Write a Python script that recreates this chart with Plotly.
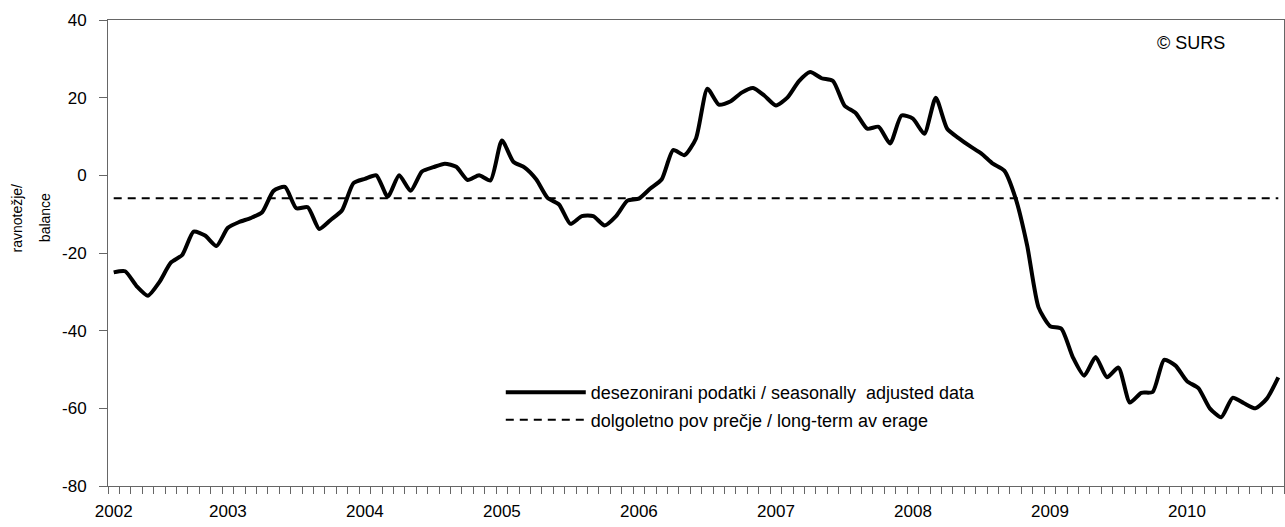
import plotly.graph_objects as go
import pandas as pd

# monthly values, March 2002 - September 2010
values = [
    -25, -24.7, -28.5, -31, -27.5, -22.5, -20.5, -14.5, -15.5, -18.2,
    -13.5, -12, -11, -9.5, -4, -3, -8.5, -8.2, -13.8, -11.5, -9, -2,
    -0.9, 0, -5.5, 0, -4, 1, 2.1, 3, 2.2, -1.2, 0, -1.3,
    9, 3.5, 2, -1, -5.8, -7.5, -12.5, -10.5, -10.5, -12.9, -10.5, -6.5,
    -6, -3.4, -1, 6.5, 5.2, 9.5, 22.3, 18.2, 19, 21.3, 22.5, 20.5,
    18, 20, 24.2, 26.6, 25, 24.3, 18, 16, 12, 12.5, 8.2, 15.4,
    14.6, 10.7, 20, 12, 9.6, 7.5, 5.6, 3, 1.2, -6, -18, -34,
    -38.8, -39.5, -46.8, -51.6, -46.8, -52, -49.5, -58.5, -56, -55.8, -47.5, -49,
    -53, -54.8, -60, -62.3, -57.3, -58.7, -60, -57.5, -52,
]
long_term_average = -5.9
months = [p.strftime("%Y-%m") for p in pd.period_range("2002-03", periods=len(values), freq="M")]
tick_text = [m[:4] if (i == 0 or m.endswith("-01")) else "" for i, m in enumerate(months)]
y_tick_vals = [-80, -60, -40, -20, 0, 20, 40]
y_tick_text = ["-80", "-60", "-40", "-20", "0", "20", "40"]

FONT = "Liberation Sans"
AXIS = "#666666"

fig = go.Figure()
fig.add_trace(go.Scatter(
    x=months, y=values, mode="lines",
    line=dict(color="black", width=4, shape="spline", smoothing=0.6),
    name="desezonirani podatki / seasonally  adjusted data", legendgroup="a",
))
fig.add_trace(go.Scatter(
    x=[months[0], months[-1]], y=[long_term_average, long_term_average], mode="lines",
    line=dict(color="black", width=2, dash="8px,6px"),
    name="dolgoletno pov prečje / long-term av erage", legendgroup="b",
))

fig.update_layout(
    width=1285, height=527,
    margin=dict(l=108, r=1, t=20, b=41),
    paper_bgcolor="white", plot_bgcolor="white",
    font=dict(family=FONT, size=17, color="black"),
    showlegend=True,
    legend=dict(x=0.334, y=0.24, xanchor="left", yanchor="top",
                bgcolor="rgba(0,0,0,0)", font=dict(size=18, family=FONT),
                tracegroupgap=1, traceorder="grouped", itemwidth=80),
    xaxis=dict(
        type="category", range=[-0.5, len(months) - 0.5],
        tickmode="array", tickvals=months, ticktext=tick_text,
        tickson="boundaries", ticks="outside", ticklen=7, tickcolor=AXIS,
        showline=True, linecolor=AXIS, linewidth=1, mirror=True,
        showgrid=False, tickangle=0, ticklabelstandoff=10,
        tickfont=dict(size=17, family=FONT),
    ),
    yaxis=dict(
        range=[-80, 40], tickmode="array", tickvals=y_tick_vals, ticktext=y_tick_text,
        ticks="outside", ticklen=8, tickcolor=AXIS,
        showline=True, linecolor=AXIS, linewidth=1, mirror=True,
        showgrid=False, zeroline=False, ticklabelstandoff=9,
        tickfont=dict(size=17, family=FONT),
    ),
    annotations=[
        dict(text="ravnotežje/", textangle=-90, xref="paper", yref="paper",
             x=-0.077, y=0.575, xanchor="center", yanchor="middle",
             showarrow=False, font=dict(size=14, family=FONT)),
        dict(text="balance", textangle=-90, xref="paper", yref="paper",
             x=-0.0535, y=0.575, xanchor="center", yanchor="middle",
             showarrow=False, font=dict(size=14, family=FONT)),
        dict(text="© SURS", xref="paper", yref="paper", x=0.9515, y=0.9506,
             xanchor="right", yanchor="middle", showarrow=False,
             font=dict(size=18, family=FONT)),
    ],
)

fig.write_html("out.html", config={"displayModeBar": False},
               post_script="document.body.style.margin='0';document.body.style.overflow='hidden';")
